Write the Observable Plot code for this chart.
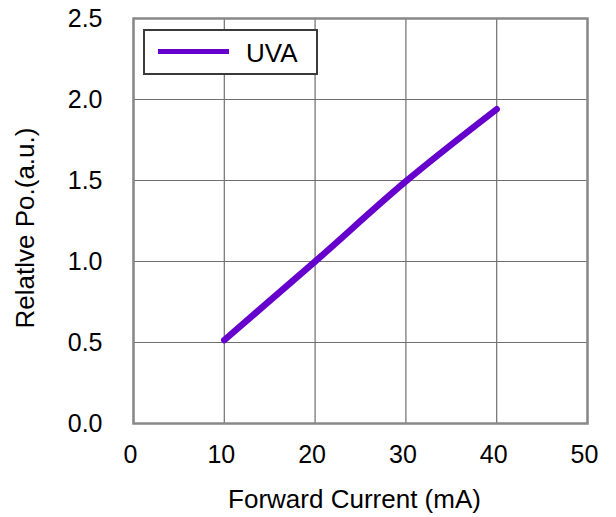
<!DOCTYPE html>
<html><head><meta charset="utf-8">
<script src="https://cdn.jsdelivr.net/npm/d3@7"></script>
<script src="https://cdn.jsdelivr.net/npm/@observablehq/plot@0.6"></script>
<style>
body{margin:0;background:#fff}
#wrap{position:relative;width:616px;height:517px}
#legend{position:absolute;left:143px;top:29px;width:171px;height:42px;border:2px solid #3a3a3a;background:#fff;font-family:"Liberation Sans",Arial,sans-serif;}
#legend svg{position:absolute;left:0;top:0}
</style></head><body><div id="wrap"></div>
<script>
const seriesName = "UVA";
const current = [10, 20, 30, 40];
const relPo = [0.515, 1.0, 1.495, 1.94];
const xTicks = [0, 10, 20, 30, 40, 50];
const yTicks = [0, 0.5, 1.0, 1.5, 2.0, 2.5];
const xLabel = "Forward Current (mA)";
const yLabel = "Relatlve Po.(a.u.)";
const lineColor = "#6600cc";

const data = current.map((c, i) => ({current: c, po: relPo[i]}));
const font = '"Liberation Sans", Arial, sans-serif';

const chart = Plot.plot({
  width: 616, height: 517,
  marginLeft: 133, marginRight: 29, marginTop: 18, marginBottom: 94,
  style: {fontFamily: font, fontSize: "25px", color: "#000", background: "#fff"},
  x: {domain: [0, 50]},
  y: {domain: [0, 2.5]},
  marks: [
    Plot.gridX(xTicks, {stroke: "#6f6f6f", strokeOpacity: 1, strokeWidth: 1.2}),
    Plot.gridY(yTicks, {stroke: "#6f6f6f", strokeOpacity: 1, strokeWidth: 1.2}),
    Plot.frame({stroke: "#888", strokeWidth: 2.5}),
    Plot.axisX(xTicks, {tickSize: 0, tickPadding: 22, dx: -3, label: null, fontSize: 25, fill: "#000"}),
    Plot.axisY(yTicks, {tickSize: 0, tickPadding: 31, label: null, tickFormat: d3.format(".1f"), fontSize: 25, fill: "#000"}),
    Plot.line(data, {x: "current", y: "po", stroke: lineColor, strokeWidth: 6.5, strokeLinecap: "round", strokeLinejoin: "round", curve: "monotone-x"}),
    Plot.text([xLabel], {frameAnchor: "bottom", textAnchor: "middle", dx: -6, dy: 84, fontSize: 26, fill: "#000"}),
    Plot.text([yLabel], {frameAnchor: "left", textAnchor: "middle", rotate: -90, dx: -108, dy: 7, fontSize: 26, fill: "#000"})
  ]
});

const wrap = document.getElementById("wrap");
wrap.appendChild(chart);

const legend = document.createElement("div");
legend.id = "legend";
legend.innerHTML = `<svg width="171" height="42">
  <line x1="13" x2="84" y1="20.5" y2="20.5" stroke="${lineColor}" stroke-width="5"/>
  <text x="101" y="30.5" font-size="26" fill="#000" font-family='${font}'>${seriesName}</text>
</svg>`;
wrap.appendChild(legend);
</script>
</body></html>
